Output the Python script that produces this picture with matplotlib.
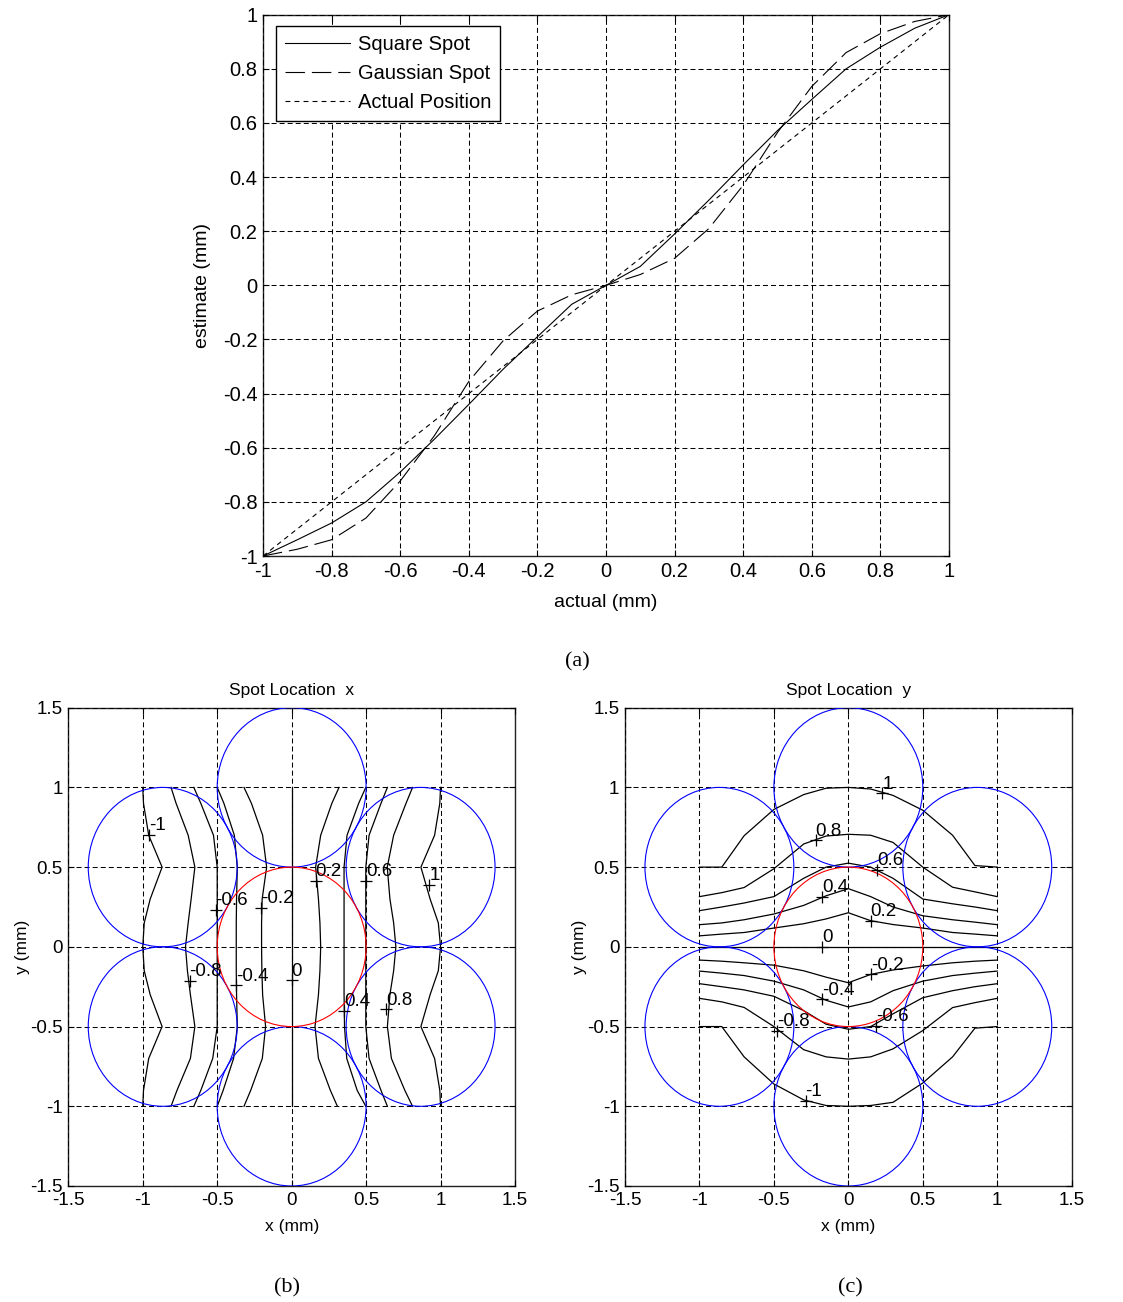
import matplotlib
matplotlib.use("Agg")
import matplotlib.pyplot as plt
from matplotlib.patches import Circle
from matplotlib.ticker import FuncFormatter

plt.rcParams["font.family"] = ["Liberation Sans", "DejaVu Sans"]
plt.rcParams["lines.scale_dashes"] = False

# ---- panel (a): estimate vs actual position ----
actual = [-1.0, -0.9, -0.8, -0.7, -0.6, -0.5, -0.4, -0.3, -0.2, -0.1, 0.0,
          0.1, 0.2, 0.3, 0.4, 0.5, 0.6, 0.7, 0.8, 0.9, 1.0]
square_spot = [-1.0, -0.94, -0.878, -0.80, -0.69, -0.568, -0.44, -0.31, -0.19, -0.07, 0.0,
               0.07, 0.19, 0.315, 0.445, 0.572, 0.687, 0.80, 0.88, 0.95, 1.0]
gaussian_spot = [-1.0, -0.975, -0.94, -0.86, -0.723, -0.555, -0.355, -0.205, -0.095, -0.035, 0.0,
                 0.04, 0.10, 0.21, 0.37, 0.565, 0.735, 0.86, 0.93, 0.975, 1.0]
a_ticks = [-1, -0.8, -0.6, -0.4, -0.2, 0, 0.2, 0.4, 0.6, 0.8, 1]

# ---- panels (b), (c): detector spots ----
spot_cx = [0.0, 0.866, 0.866, 0.0, -0.866, -0.866]
spot_cy = [1.0, 0.5, -0.5, -1.0, -0.5, 0.5]
spot_r = 0.5
centre_r = 0.5
bc_ticks = [-1.5, -1, -0.5, 0, 0.5, 1, 1.5]

# (b) contours of x estimate: x position of each level at the y samples
b_levels = [-1, -0.8, -0.6, -0.4, -0.2, 0, 0.2, 0.4, 0.6, 0.8, 1]
b_y = [1.0, 0.9, 0.7, 0.5, 0.3, 0.15, 0.0, -0.15, -0.3, -0.5, -0.7, -0.9, -1.0]
b_x = [
    [-1.0, -0.995, -0.96, -0.87, -0.95, -0.99, -1.0, -0.99, -0.95, -0.87, -0.96, -0.995, -1.0],
    [-0.81, -0.776, -0.695, -0.65, -0.675, -0.695, -0.713, -0.70, -0.68, -0.65, -0.68, -0.77, -0.81],
    [-0.657, -0.61, -0.525, -0.5, -0.5, -0.5, -0.5, -0.5, -0.5, -0.5, -0.53, -0.61, -0.657],
    [-0.5, -0.455, -0.385, -0.365, -0.37, -0.372, -0.372, -0.372, -0.37, -0.365, -0.39, -0.46, -0.5],
    [-0.32, -0.27, -0.195, -0.168, -0.198, -0.202, -0.202, -0.20, -0.195, -0.175, -0.197, -0.275, -0.32],
    [0.0, 0.0, 0.0, 0.0, 0.0, 0.0, 0.0, 0.0, 0.0, 0.0, 0.0, 0.0, 0.0],
    [0.318, 0.27, 0.195, 0.161, 0.18, 0.19, 0.195, 0.19, 0.18, 0.157, 0.18, 0.26, 0.307],
    [0.498, 0.45, 0.372, 0.352, 0.352, 0.352, 0.352, 0.352, 0.352, 0.355, 0.37, 0.44, 0.498],
    [0.643, 0.60, 0.52, 0.498, 0.498, 0.498, 0.498, 0.498, 0.498, 0.498, 0.52, 0.60, 0.643],
    [0.812, 0.768, 0.685, 0.642, 0.66, 0.685, 0.70, 0.685, 0.66, 0.643, 0.67, 0.76, 0.812],
    [1.0, 0.995, 0.96, 0.868, 0.93, 0.985, 1.0, 0.985, 0.93, 0.868, 0.96, 0.995, 1.0],
]
b_label_text = ["-1", "-0.6", "-0.2", "0.2", "0.6", "1", "-0.8", "-0.4", "0", "0.4", "0.8"]
b_label_x = [-0.96, -0.511, -0.208, 0.161, 0.498, 0.924, -0.686, -0.372, 0.0, 0.352, 0.632]
b_label_y = [0.70, 0.231, 0.244, 0.412, 0.412, 0.391, -0.215, -0.242, -0.21, -0.402, -0.392]

# (c) contours of y estimate: y position of each level at the x samples
c_levels = [1, 0.8, 0.6, 0.4, 0.2, 0, -0.2, -0.4, -0.6, -0.8, -1]
c_x = [-1.0, -0.85, -0.7, -0.5, -0.3, -0.15, 0.0, 0.15, 0.3, 0.5, 0.7, 0.85, 1.0]
c_y = [
    [0.5, 0.5, 0.697, 0.862, 0.955, 0.995, 1.0, 0.99, 0.95, 0.857, 0.70, 0.51, 0.5],
    [0.315, 0.34, 0.372, 0.49, 0.645, 0.695, 0.706, 0.70, 0.655, 0.5, 0.374, 0.345, 0.315],
    [0.227, 0.25, 0.275, 0.315, 0.43, 0.50, 0.525, 0.50, 0.43, 0.30, 0.27, 0.25, 0.227],
    [0.139, 0.15, 0.17, 0.206, 0.26, 0.32, 0.365, 0.315, 0.25, 0.195, 0.17, 0.155, 0.139],
    [0.069, 0.08, 0.09, 0.118, 0.145, 0.175, 0.214, 0.164, 0.14, 0.118, 0.09, 0.08, 0.069],
    [0.0, 0.0, 0.0, 0.0, 0.0, 0.0, 0.0, 0.0, 0.0, 0.0, 0.0, 0.0, 0.0],
    [-0.083, -0.09, -0.10, -0.115, -0.15, -0.19, -0.225, -0.173, -0.145, -0.12, -0.10, -0.09, -0.083],
    [-0.152, -0.165, -0.18, -0.215, -0.27, -0.335, -0.377, -0.345, -0.275, -0.215, -0.18, -0.165, -0.152],
    [-0.231, -0.25, -0.27, -0.31, -0.40, -0.485, -0.517, -0.50, -0.42, -0.319, -0.275, -0.25, -0.231],
    [-0.323, -0.345, -0.38, -0.50, -0.645, -0.69, -0.704, -0.69, -0.64, -0.525, -0.381, -0.35, -0.323],
    [-0.5, -0.5, -0.69, -0.86, -0.96, -0.995, -1.0, -0.995, -0.975, -0.854, -0.69, -0.51, -0.5],
]
c_label_text = ["1", "0.8", "0.6", "0.4", "0.2", "0", "-0.2", "-0.4", "-0.6", "-0.8", "-1"]
c_label_x = [0.229, -0.22, 0.195, -0.175, 0.15, -0.175, 0.15, -0.175, 0.184, -0.477, -0.287]
c_label_y = [0.962, 0.668, 0.483, 0.311, 0.164, 0.0, -0.173, -0.329, -0.496, -0.527, -0.965]


def tick_fmt(v, pos):
    v = round(v, 3)
    if v == 0:
        return "0"
    return f"{v:g}"


def style_axes(ax, ticks, fs):
    ax.set_xticks(ticks)
    ax.set_yticks(ticks)
    ax.set_xlim(ticks[0], ticks[-1])
    ax.set_ylim(ticks[0], ticks[-1])
    ax.xaxis.set_major_formatter(FuncFormatter(tick_fmt))
    ax.yaxis.set_major_formatter(FuncFormatter(tick_fmt))
    ax.tick_params(direction="in", top=True, right=True, length=4, width=0.8,
                   labelsize=fs, pad=4, colors="black")
    ax.grid(True, color="black", linestyle=(0, (3.6, 2.2)), linewidth=0.75)
    ax.set_axisbelow(False)
    for s in ax.spines.values():
        s.set_linewidth(1.0)
        s.set_color("#222222")


def draw_spots(ax):
    for cx, cy in zip(spot_cx, spot_cy):
        ax.add_patch(Circle((cx, cy), spot_r, fill=False, ec="#0000ff", lw=0.8, zorder=3))
    ax.add_patch(Circle((0, 0), centre_r, fill=False, ec="#ff0000", lw=0.8, zorder=3))


def draw_labels(ax, texts, xs, ys):
    for t, x, y in zip(texts, xs, ys):
        ax.plot([x], [y], marker="+", color="black", ms=9, mew=0.9, zorder=4)
        ax.text(x, y + 0.005, t, ha="left", va="bottom", fontsize=13.5, zorder=4)


fig = plt.figure(figsize=(11.23, 13.02), dpi=100)
W, H = 1123.0, 1302.0

# ---- (a) ----
ax_a = fig.add_axes([263 / W, 1 - 556 / H, 686 / W, 541.3 / H])
style_axes(ax_a, a_ticks, 14.5)
ax_a.plot(actual, square_spot, color="black", lw=0.8, label="Square Spot")
ax_a.plot(actual, gaussian_spot, color="black", lw=0.8, dashes=(14, 5), label="Gaussian Spot")
ax_a.plot(actual, actual, color="black", lw=0.8, dashes=(3.5, 3), label="Actual Position")
ax_a.set_xlabel("actual (mm)", fontsize=14)
ax_a.set_ylabel("estimate (mm)", fontsize=14)
ax_a.xaxis.set_label_coords(0.5, -0.071)
ax_a.yaxis.set_label_coords(-0.076, 0.5)
leg = ax_a.legend(loc="upper left", bbox_to_anchor=(0.019, 0.98), borderaxespad=0,
                  fontsize=14.5, handlelength=3.2, handletextpad=0.4, labelspacing=0.5,
                  fancybox=False, framealpha=1, edgecolor="black", borderpad=0.45)
leg.get_frame().set_linewidth(1.0)

# ---- (b) ----
ax_b = fig.add_axes([68.3 / W, 1 - 1186 / H, 446.7 / W, 478.3 / H])
style_axes(ax_b, bc_ticks, 13.5)
for row in b_x:
    ax_b.plot(row, b_y, color="black", lw=0.9, zorder=2)
draw_spots(ax_b)
draw_labels(ax_b, b_label_text, b_label_x, b_label_y)
ax_b.set_title("Spot Location  x", fontsize=12.5, pad=9)
ax_b.set_xlabel("x (mm)", fontsize=12.5)
ax_b.set_ylabel("y (mm)", fontsize=12.5)
ax_b.xaxis.set_label_coords(0.5, -0.068)
ax_b.yaxis.set_label_coords(-0.086, 0.5)

# ---- (c) ----
ax_c = fig.add_axes([625 / W, 1 - 1186 / H, 446.7 / W, 478.3 / H])
style_axes(ax_c, bc_ticks, 13.5)
for row in c_y:
    ax_c.plot(c_x, row, color="black", lw=0.9, zorder=2)
draw_spots(ax_c)
draw_labels(ax_c, c_label_text, c_label_x, c_label_y)
ax_c.set_title("Spot Location  y", fontsize=12.5, pad=9)
ax_c.set_xlabel("x (mm)", fontsize=12.5)
ax_c.set_ylabel("y (mm)", fontsize=12.5)
ax_c.xaxis.set_label_coords(0.5, -0.068)
ax_c.yaxis.set_label_coords(-0.085, 0.5)

# captions
cap_font = dict(fontsize=16, family=["Liberation Serif", "DejaVu Serif"], ha="center", va="center")
fig.text(577 / W, 1 - 662 / H, "(a)", **cap_font)
fig.text(287 / W, 1 - 1288 / H, "(b)", **cap_font)
fig.text(850 / W, 1 - 1288 / H, "(c)", **cap_font)

fig.savefig("out.png", dpi=100, facecolor="white")
